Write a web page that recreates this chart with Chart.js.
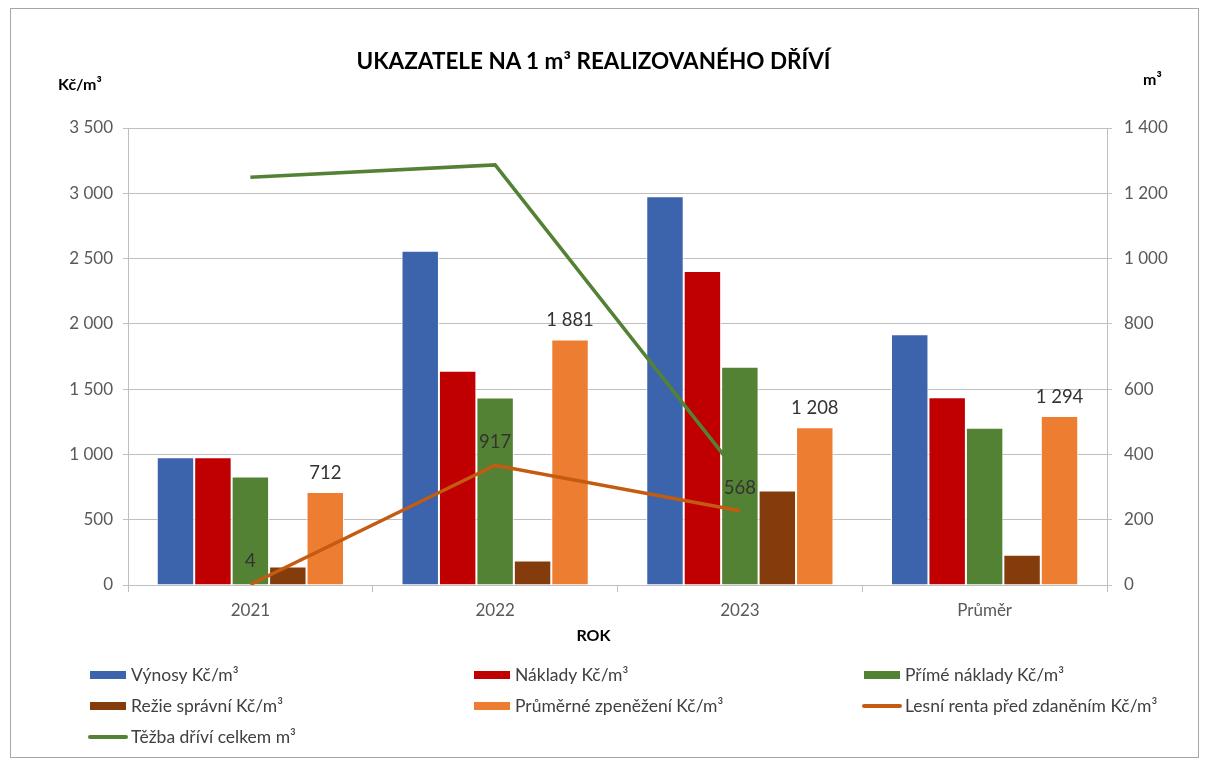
<!DOCTYPE html>
<html lang="cs">
<head>
<meta charset="utf-8">
<title>Ukazatele na 1 m³ realizovaného dříví</title>
<script src="https://cdn.jsdelivr.net/npm/chart.js@4"></script>
<style>
  body { margin: 0; background: #fff; font-family: Lato, "Liberation Sans", sans-serif; }
  #wrap { position: relative; width: 1207px; height: 763px; overflow: hidden; }
  #frame { position: absolute; left: 10px; top: 8px; width: 1187px; height: 748px; border: 1px solid #a6a6a6; }
  canvas { position: absolute; left: 0; top: 0; }
  .txt { position: absolute; white-space: nowrap; }
  #title { left: 0; width: 1187px; top: 47px; text-align: center; font-weight: bold; font-size: 22.5px; color: #000; }
  #unitL { left: 58px; top: 74px; font-weight: bold; font-size: 16px; color: #000; }
  #unitR { left: 1143px; top: 69px; font-weight: bold; font-size: 16px; color: #000; }
  #xTitle { left: 0; width: 1187px; top: 625px; text-align: center; font-weight: bold; font-size: 16px; color: #000; }
  .leg { position: absolute; font-size: 17.5px; color: #404040; line-height: 20px; }
  .leg i { position: absolute; display: block; }
  .leg span { position: absolute; left: 0; top: 0; white-space: nowrap; }
</style>
</head>
<body>
<div id="wrap">
  <div id="frame"></div>
  <canvas id="myChart" width="1207" height="763"></canvas>
  <div class="txt" id="title">UKAZATELE NA 1 m³ REALIZOVANÉHO DŘÍVÍ</div>
  <div class="txt" id="unitL">Kč/m³</div>
  <div class="txt" id="unitR">m³</div>
  <div class="txt" id="xTitle">ROK</div>
  <div id="legend"></div>
</div>
<script>
// categories
const years = ['2021', '2022', '2023', 'Průměr'];

// bar series (Kč/m3)
const vynosy = [979, 2559, 2977, 1920];
const naklady = [979, 1641, 2405, 1437];
const primeNaklady = [831, 1436, 1672, 1205];
const rezieSpravni = [141, 187, 723, 231];
const prumerneZpenezeni = [712, 1881, 1208, 1294];

// line series
const lesniRenta = [4, 917, 568, null]; // Kč/m3, left axis
const tezbaDrivi = [1249, 1287, 335, null]; // m3, right axis

// series names
const seriesNames = [
    'Výnosy Kč/m³',
    'Náklady Kč/m³',
    'Přímé náklady Kč/m³',
    'Režie správní Kč/m³',
    'Průměrné zpeněžení Kč/m³',
    'Lesní renta před zdaněním Kč/m³',
    'Těžba dříví celkem m³'
];
const colors = ['#3c64ac', '#c00000', '#548235', '#843c0c', '#ed7d31', '#c55a11', '#548235'];

// number format with space as thousands separator
function fmt(v) {
    return String(Math.round(v)).replace(/\B(?=(\d{3})+(?!\d))/g, ' ');
}

function barSet(i, data) {
    return {
        type: 'bar',
        label: seriesNames[i],
        data: data,
        backgroundColor: colors[i],
        borderColor: '#ffffff',
        borderWidth: 1,
        yAxisID: 'y',
        categoryPercentage: 0.765,
        barPercentage: 1.0,
        order: 1
    };
}

function lineSet(i, data, axis) {
    return {
        type: 'line',
        label: seriesNames[i],
        data: data,
        borderColor: colors[i],
        backgroundColor: colors[i],
        borderWidth: 3.5,
        pointRadius: 0,
        fill: false,
        yAxisID: axis,
        order: 0
    };
}

// value labels for orange bars and forest rent line
const valueLabels = {
    id: 'valueLabels',
    afterDatasetsDraw(chart) {
        const ctx = chart.ctx;
        ctx.save();
        ctx.font = '18.5px Lato, "Liberation Sans", sans-serif';
        ctx.fillStyle = '#333333';
        ctx.textAlign = 'center';
        ctx.textBaseline = 'middle';
        [[4, 19], [5, 23]].forEach(([dsIndex, off]) => {
            const meta = chart.getDatasetMeta(dsIndex);
            const values = chart.data.datasets[dsIndex].data;
            meta.data.forEach((el, i) => {
                if (values[i] == null) return;
                ctx.fillText(fmt(values[i]), el.x, el.y - off);
            });
        });
        ctx.restore();
    }
};

const tickFont = { family: 'Lato, "Liberation Sans", sans-serif', size: 17 };
const gridColor = '#bfbfbf';

const ctx = document.getElementById('myChart').getContext('2d');
const chart = new Chart(ctx, {
    data: {
        labels: years,
        datasets: [
            barSet(0, vynosy),
            barSet(1, naklady),
            barSet(2, primeNaklady),
            barSet(3, rezieSpravni),
            barSet(4, prumerneZpenezeni),
            lineSet(5, lesniRenta, 'y'),
            lineSet(6, tezbaDrivi, 'y1')
        ]
    },
    options: {
        responsive: false,
        animation: false,
        layout: { padding: { top: 128, right: 0, bottom: 138, left: 0 } },
        plugins: {
            legend: { display: false },
            title: { display: false },
            tooltip: { enabled: false }
        },
        scales: {
            x: {
                offset: true,
                grid: { display: true, offset: true, drawOnChartArea: false, drawTicks: true, tickLength: 7, color: gridColor },
                border: { display: true, color: gridColor },
                ticks: { font: tickFont, color: '#595959', padding: 8 },
                afterFit(scale) { scale.height = 40; }
            },
            y: {
                position: 'left',
                min: 0,
                max: 3500,
                grid: { color: gridColor, tickLength: 5 },
                border: { display: true, color: gridColor },
                ticks: { stepSize: 500, font: tickFont, color: '#595959', padding: 10, callback: v => fmt(v) },
                afterFit(scale) { scale.width = 128; }
            },
            y1: {
                position: 'right',
                min: 0,
                max: 1400,
                grid: { drawOnChartArea: false, color: gridColor, tickLength: 5 },
                border: { display: true, color: gridColor },
                ticks: { stepSize: 200, font: tickFont, color: '#595959', padding: 12, callback: v => fmt(v) },
                afterFit(scale) { scale.width = 100; }
            }
        }
    },
    plugins: [valueLabels]
});

// legend as real text in three columns (x = where the text starts)
const legendPos = [
    [131, 675], [515, 675], [905, 675],
    [131, 706], [515, 706], [905, 706],
    [131, 737]
];
const legendEl = document.getElementById('legend');
seriesNames.forEach((name, i) => {
    const [x, y] = legendPos[i];
    const item = document.createElement('div');
    item.className = 'leg';
    item.style.left = x + 'px';
    item.style.top = (y - 10) + 'px';
    const sw = document.createElement('i');
    if (i >= 5) {
        sw.style.left = '-43px';
        sw.style.top = '8px';
        sw.style.width = '40px';
        sw.style.height = '4px';
        sw.style.borderRadius = '2px';
    } else {
        sw.style.left = '-41px';
        sw.style.top = '6px';
        sw.style.width = '36px';
        sw.style.height = '8px';
    }
    sw.style.background = colors[i];
    const label = document.createElement('span');
    label.textContent = name;
    item.appendChild(sw);
    item.appendChild(label);
    legendEl.appendChild(item);
});
</script>
</body>
</html>
